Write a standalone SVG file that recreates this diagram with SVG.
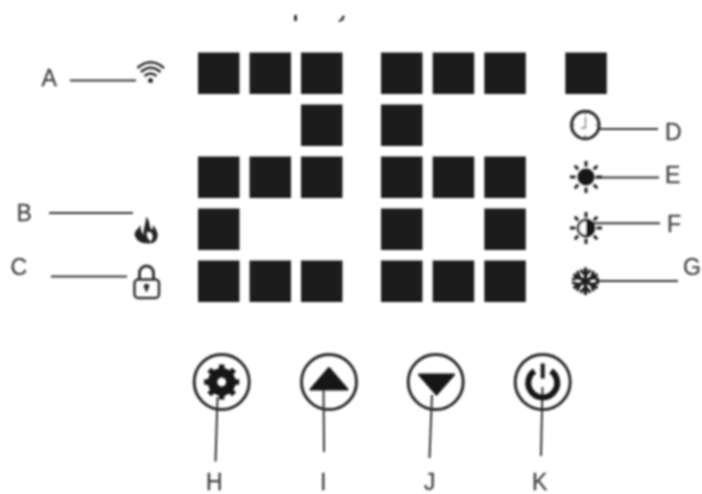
<svg xmlns="http://www.w3.org/2000/svg" width="702" height="494" viewBox="0 0 702 494">
<defs>
<filter id="soft" x="-2%" y="-2%" width="104%" height="104%"><feGaussianBlur stdDeviation="0.8"/></filter>
<rect id="seg" width="41.5" height="41.5" fill="#1f1f1f"/>
<g id="rays" stroke="#222" stroke-width="3" stroke-linecap="butt">
<path d="M0-16V-10.500M0 16V10.500M-16 0H-10.500M16 0H10.500M-11.300-11.300L-7.800-7.800M11.300-11.300L7.800-7.800M-11.300 11.300L-7.800 7.800M11.300 11.300L7.800 7.800"/>
</g>
</defs>
<style>
.lbl{font-family:"Liberation Sans",Arial,sans-serif;font-size:23px;fill:#444;stroke:#444;stroke-width:.3}
.ln{stroke:#333;stroke-width:2;fill:none}
.ring{fill:none;stroke:#2a2a2a;stroke-width:3}
</style>
<rect width="702" height="494" fill="#fff"/>
<g filter="url(#soft)">
<g id="top-marks" fill="#333">
<rect x="294" y="15" width="3" height="6"/>
<path d="M338 20.500l2.500-1 2-4 2.500.5-2 4.500-3.500 1.500z"/>
</g>
<g id="digit-1">
<use href="#seg" x="198" y="52.500"/><use href="#seg" x="249.500" y="52.500"/><use href="#seg" x="301" y="52.500"/>
<use href="#seg" x="301" y="104.500"/>
<use href="#seg" x="198" y="156.500"/><use href="#seg" x="249.500" y="156.500"/><use href="#seg" x="301" y="156.500"/>
<use href="#seg" x="198" y="208.500"/>
<use href="#seg" x="198" y="260.500"/><use href="#seg" x="249.500" y="260.500"/><use href="#seg" x="301" y="260.500"/>
</g>
<g id="digit-2">
<use href="#seg" x="381" y="52.500"/><use href="#seg" x="432.700" y="52.500"/><use href="#seg" x="484.300" y="52.500"/>
<use href="#seg" x="381" y="104.500"/>
<use href="#seg" x="381" y="156.500"/><use href="#seg" x="432.700" y="156.500"/><use href="#seg" x="484.300" y="156.500"/>
<use href="#seg" x="381" y="208.500"/><use href="#seg" x="484.300" y="208.500"/>
<use href="#seg" x="381" y="260.500"/><use href="#seg" x="432.700" y="260.500"/><use href="#seg" x="484.300" y="260.500"/>
</g>
<g id="degree"><use href="#seg" x="565.300" y="52.500"/></g>
<g id="connectors">
<path class="ln" d="M70 80.500H136"/>
<path class="ln" d="M49 213H133"/>
<path class="ln" d="M51 276.500H127"/>
<path class="ln" d="M600 129H658"/>
<path class="ln" d="M595 177.500H659"/>
<path class="ln" d="M592 223.300H660"/>
<path class="ln" d="M596 281H678"/>
<path class="ln" d="M217.500 397L215.500 461.500"/>
<path class="ln" d="M323.500 388L324 452"/>
<path class="ln" d="M432 395L429.500 458"/>
<path class="ln" d="M542.500 387L541 456"/>
</g>
<g id="node-a">
<g fill="none" stroke="#2a2a2a" stroke-width="2.600">
<path d="M137.500 68Q150.500 56.500 164 68"/><path d="M141 72Q150.500 63.500 160.500 72"/><path d="M144.500 76Q150.500 71 156.500 76"/>
</g>
<circle cx="150.500" cy="80.500" r="2.500" fill="#2a2a2a"/>
<text class="lbl" x="41.500" y="86">A</text>
</g>
<g id="node-b">
<path fill="#222" fill-rule="evenodd" d="M146 217C151 221 148 226 152 230C153 228 153 227 153 225C158 231 160 238 154 242.500C146 245 136 243 134.500 234C135 230 139 229 140 225C141 229 141 232 143.500 235C143 229 146 224 146 217ZM147 231C146 236 148 239 150.500 241.500C154 238 153 234 150 231.500C149.500 233 148.500 233 147 231Z"/>
<text class="lbl" x="16.500" y="221">B</text>
</g>
<g id="node-c">
<rect x="134.500" y="279.500" width="24.500" height="18.500" rx="3.500" fill="none" stroke="#333" stroke-width="2.500"/>
<path d="M139.500 279V273A7 7 0 0 1 153.500 273V279" fill="none" stroke="#333" stroke-width="3"/>
<circle cx="146.500" cy="286.500" r="2.800" fill="#333"/><path d="M145.500 287.500h2l.5 4h-3z" fill="#333"/>
<text class="lbl" x="10.500" y="275">C</text>
</g>
<g id="node-d">
<circle class="ring" cx="585.300" cy="125" r="13.800"/>
<path d="M585.500 117V128H581" fill="none" stroke="#888" stroke-width="1.400"/>
<path d="M585.300 112V115M585.300 135V138M572.300 125H575M595.500 125H598.300" stroke="#555" stroke-width="1.200"/>
<text class="lbl" x="665" y="140">D</text>
</g>
<g id="node-e">
<circle cx="586" cy="177" r="8.500" fill="#141414"/>
<use href="#rays" x="586" y="177"/>
<text class="lbl" x="665" y="183">E</text>
</g>
<g id="node-f">
<circle cx="586" cy="228" r="8" fill="#fff" stroke="#1c1c1c" stroke-width="2.500"/>
<path d="M586 220A8 8 0 0 1 586 236Z" fill="#141414"/>
<use href="#rays" x="586" y="228"/>
<text class="lbl" x="667" y="232">F</text>
</g>
<g id="node-g">
<g stroke="#1c1c1c" stroke-width="3.200" fill="none">
<path d="M585.500 267.500V295M573.500 274.500L597.500 288M573.500 288L597.500 274.500"/>
<path stroke-width="2.800" d="M580.500 270L585.500 275L590.500 270M580.500 292.500L585.500 287L590.500 292.500M572 279.500L579.500 277.500L577.500 271M599 279.500L591.500 277.500L593.500 271M572 282.500L579.500 284.500L577.500 291M599 282.500L591.500 284.500L593.500 291"/>
</g>
<text class="lbl" x="683" y="275">G</text>
</g>
<g id="node-h">
<circle class="ring" cx="221.700" cy="382" r="27.500"/>
<circle cx="221.700" cy="382" r="9.200" fill="none" stroke="#141414" stroke-width="9.500"/>
<g stroke="#141414" stroke-width="5.500" fill="none">
<path d="M221.700 364.500V372M221.700 392V399.500M204.200 382H211.700M231.700 382H239.200M209.300 369.600L214.600 374.900M228.800 389.100L234.100 394.400M234.100 369.600L228.800 374.900M214.600 389.100L209.300 394.400"/>
</g>
<text class="lbl" x="206" y="490">H</text>
</g>
<g id="node-i">
<circle class="ring" cx="329" cy="382" r="27.500"/>
<path d="M329 368L347.500 389.500H310.500Z" fill="#141414" stroke="#141414" stroke-linejoin="round" stroke-width="2"/>
<text class="lbl" x="320" y="490">I</text>
</g>
<g id="node-j">
<circle class="ring" cx="435.700" cy="382" r="27.500"/>
<path d="M419 374.500H454L436.500 394.500Z" fill="#141414" stroke="#141414" stroke-linejoin="round" stroke-width="2"/>
<text class="lbl" x="424" y="490">J</text>
</g>
<g id="node-k">
<circle class="ring" cx="542.700" cy="382" r="27.500"/>
<path d="M534.500 371A14.500 14.500 0 1 0 551 371" fill="none" stroke="#141414" stroke-width="6"/>
<path d="M542.700 363.500V378.500" stroke="#141414" stroke-width="4"/>
<text class="lbl" x="532" y="490">K</text>
</g>
</g>
</svg>
